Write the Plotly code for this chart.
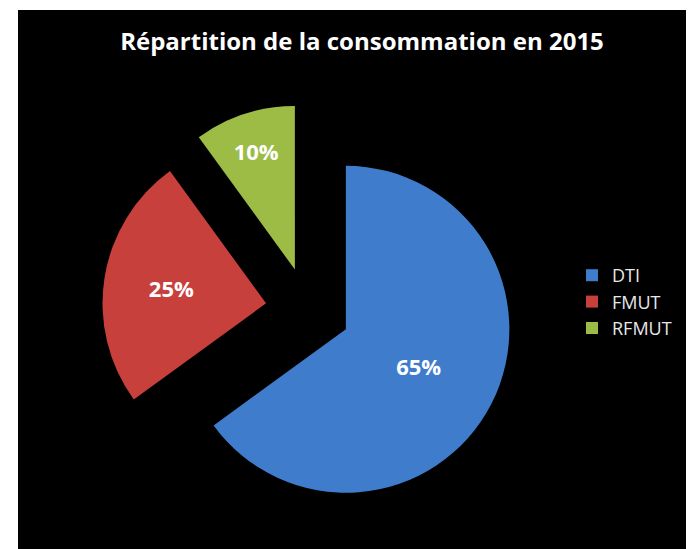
import plotly.graph_objects as go

labels = ["DTI", "FMUT", "RFMUT"]
values = [65, 25, 10]
colors = ["#3F7DCC", "#C8403C", "#9CBC46"]
title_text = "Répartition de la consommation en 2015"

# page body has an 8px margin, so the figure is sized to fit the window
W, H = 686, 541
# pie domain in figure pixels
cx, cy, half = 300, 302, 206

fig = go.Figure(go.Pie(
    labels=labels,
    values=values,
    sort=False,
    direction="clockwise",
    rotation=0,
    pull=[0.26, 0.26, 0.26],
    marker=dict(colors=colors, line=dict(width=0)),
    textinfo="percent",
    texttemplate="%{percent:.0%}",
    textposition="inside",
    insidetextorientation="horizontal",
    textfont=dict(family="Open Sans", size=22, color="white", weight="bold"),
    domain=dict(x=[(cx - half) / W, (cx + half) / W],
                y=[(H - cy - half) / H, (H - cy + half) / H]),
    hoverinfo="skip",
))

fig.update_layout(
    width=W, height=H,
    margin=dict(l=0, r=0, t=0, b=0),
    paper_bgcolor="white",
    shapes=[dict(type="rect", xref="paper", yref="paper",
                 x0=10 / W, x1=1.0, y0=0, y1=1 - 2 / H,
                 fillcolor="black", line=dict(width=0), layer="below")],
    title=dict(text=title_text, x=354 / W, xanchor="center",
               y=1 - 34 / H, yanchor="middle",
               font=dict(family="Open Sans", size=24, color="white", weight="bold")),
    legend=dict(x=564 / W, xanchor="left", y=1 - 249 / H, yanchor="top",
                font=dict(family="Open Sans", size=18, color="#E8E8E8"),
                bgcolor="rgba(0,0,0,0)", itemwidth=30),
    showlegend=True,
)

fig.write_html("out.html")
